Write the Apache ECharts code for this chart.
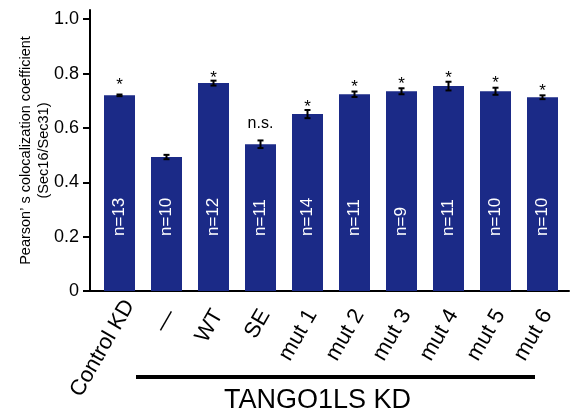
<!DOCTYPE html>
<html><head><meta charset="utf-8">
<script src="https://cdn.jsdelivr.net/npm/echarts@6/dist/echarts.min.js"></script>
<style>html,body{margin:0;padding:0;background:#fff}#c{width:577px;height:417px}</style>
</head><body><div id="c"></div>
<script>
const categories = ['Control KD', '—', 'WT', 'SE', 'mut 1', 'mut 2', 'mut 3', 'mut 4', 'mut 5', 'mut 6'];
const means = [0.720, 0.493, 0.765, 0.540, 0.651, 0.724, 0.735, 0.754, 0.735, 0.713];
const sems = [0.003, 0.008, 0.009, 0.014, 0.015, 0.010, 0.011, 0.016, 0.013, 0.007];
const nLabels = ['n=13', 'n=10', 'n=12', 'n=11', 'n=14', 'n=11', 'n=9', 'n=11', 'n=10', 'n=10'];
const marks = ['*', '', '*', 'n.s.', '*', '*', '*', '*', '*', '*'];
const markY = [0.773, 0, 0.797, 0.617, 0.690, 0.764, 0.776, 0.798, 0.778, 0.749];
const yTicks = [0, 0.2, 0.4, 0.6, 0.8, 1.0];
const yMax = 1.034;
const groupLabel = 'TANGO1LS KD';
const yName = 'Pearson\u2019 s colocalization coefficient\n(Sec16/Sec31)';

const FONT = '"Liberation Sans", Arial, Helvetica, sans-serif';
const BAR = '#1b2a87';

const chart = echarts.init(document.getElementById('c'), null, {renderer: 'canvas'});

const catData = categories.map((c, i) => i === 0
  ? {value: c, textStyle: {padding: [0, -20, 0, 0]}}
  : c);

chart.setOption({
  animation: false,
  backgroundColor: '#fff',
  grid: [
    {left: 90, right: 8, top: 10, bottom: 126, containLabel: false, outerBoundsMode: 'none'},
    {left: 96, right: 11, top: 10, bottom: 126, containLabel: false, outerBoundsMode: 'none'}
  ],
  xAxis: [
    {gridIndex: 0, type: 'value', min: 0, max: 1,
     axisLine: {show: true, onZero: false, lineStyle: {color: '#000', width: 2}},
     axisTick: {show: false}, axisLabel: {show: false}, splitLine: {show: false}},
    {gridIndex: 1, type: 'category', data: catData,
     axisLine: {show: false}, axisTick: {show: false}, splitLine: {show: false},
     axisLabel: {show: true, interval: 0, rotate: 60, margin: 28, padding: [0, -9, 0, 0],
                 fontSize: 22, color: '#000', fontFamily: FONT}}
  ],
  yAxis: [
    {gridIndex: 0, type: 'value', min: 0, max: yMax,
     axisLine: {show: true, onZero: false, lineStyle: {color: '#000', width: 2}},
     axisTick: {show: true, length: 7, customValues: yTicks, lineStyle: {color: '#000', width: 2}},
     axisLabel: {show: true, customValues: yTicks, margin: 11, fontSize: 18, color: '#000', fontFamily: FONT,
                 formatter: v => v === 0 ? '0' : v.toFixed(1)},
     splitLine: {show: false},
     name: yName, nameLocation: 'middle', nameGap: 37, nameMoveOverlap: false,
     nameTextStyle: {fontSize: 14.5, lineHeight: 18, color: '#000', fontFamily: FONT, align: 'center'}},
    {gridIndex: 1, type: 'value', min: 0, max: yMax, show: false}
  ],
  series: [
    {type: 'bar', xAxisIndex: 1, yAxisIndex: 1, data: means, barWidth: 31,
     itemStyle: {color: BAR}, silent: true, z: 2,
     label: {show: true, position: 'insideBottom', distance: 55, rotate: 90, align: 'left',
             verticalAlign: 'middle', color: '#fff', fontSize: 17, fontFamily: FONT,
             formatter: p => nLabels[p.dataIndex]}},
    {type: 'custom', xAxisIndex: 1, yAxisIndex: 1, silent: true, z: 3,
     data: means.map((m, i) => [i, m, sems[i]]),
     renderItem: (params, api) => {
       const i = api.value(0), m = api.value(1), e = api.value(2);
       const t = api.coord([i, m + e]), b = api.coord([i, m - e]);
       const hw = 3;
       const st = {stroke: '#000', lineWidth: 2};
       return {type: 'group', children: [
         {type: 'line', shape: {x1: t[0], y1: t[1], x2: b[0], y2: b[1]}, style: st},
         {type: 'line', shape: {x1: t[0] - hw, y1: t[1], x2: t[0] + hw, y2: t[1]}, style: st},
         {type: 'line', shape: {x1: b[0] - hw, y1: b[1], x2: b[0] + hw, y2: b[1]}, style: st}
       ]};
     }},
    {type: 'custom', xAxisIndex: 1, yAxisIndex: 1, silent: true, z: 3,
     data: markY.map((v, i) => [i, v]),
     renderItem: (params, api) => {
       const i = api.value(0), v = api.value(1);
       const txt = marks[params.dataIndex];
       if (!txt) return null;
       const p = api.coord([i, v]);
       const star = txt === '*';
       return {type: 'text', x: p[0], y: p[1] + (star ? 4 : 0),
         style: {text: txt, fill: '#000', fontSize: star ? 17 : 16, fontFamily: FONT,
                 align: 'center', verticalAlign: 'middle'}};
     }}
  ],
  graphic: [
    {type: 'rect', shape: {x: 136, y: 375, width: 399, height: 4}, style: {fill: '#000'}},
    {type: 'text', x: 317.5, y: 401, style: {text: groupLabel, fill: '#000', fontSize: 27, fontFamily: FONT,
      align: 'center', verticalAlign: 'middle'}}
  ]
});
</script></body></html>
